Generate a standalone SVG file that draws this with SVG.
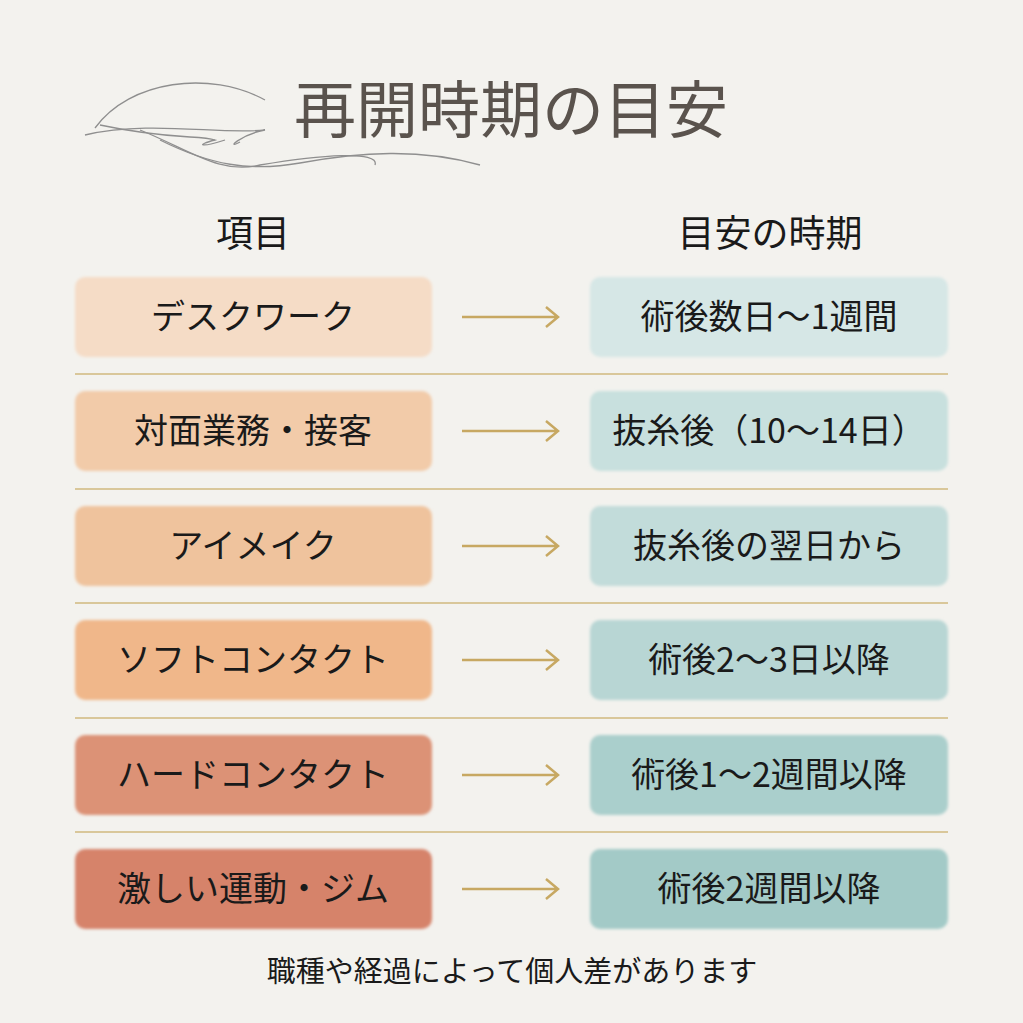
<svg xmlns="http://www.w3.org/2000/svg" width="1023" height="1023" viewBox="0 0 1023 1023">
<defs>
<style>
text{font-family:"Noto Sans CJK JP","Noto Sans CJK SC",sans-serif;text-anchor:middle}
.t{font-size:34px;fill:#1a1a1a}
.h{font-size:37px;fill:#1a1a1a}
.div{stroke:#d9c79a;stroke-width:2}
.arr{stroke:#c7a862;stroke-width:2.5;fill:none}
.orn{stroke:#8f8f8f;stroke-width:1.3;fill:none}
</style>
<filter id="blur"><feGaussianBlur stdDeviation="1.5"/></filter>
</defs>
<rect width="1023" height="1023" fill="#f3f2ee"/>
<g id="ornament">
<path class="orn" d="M95 128 C130 80 210 70 265 100"/>
<path class="orn" d="M85 135 C150 120 220 135 265 130 C240 135 225 150 240 142"/>
<path class="orn" d="M100 125 C170 140 200 135 215 140 C195 145 200 148 225 140"/>
<path class="orn" d="M140 130 C190 150 220 175 260 165 C320 155 380 150 375 165"/>
<path class="orn" d="M160 140 C210 165 250 172 300 163 C360 152 420 148 480 165"/>
</g>
<text x="511" y="133" style="font-size:62px;fill:#5a534d">再開時期の目安</text>
<text class="h" x="253" y="247">項目</text>
<text class="h" x="770" y="247">目安の時期</text>
<g id="connectors">
<line class="div" x1="75" y1="374" x2="948" y2="374"/>
<line class="div" x1="75" y1="489" x2="948" y2="489"/>
<line class="div" x1="75" y1="603" x2="948" y2="603"/>
<line class="div" x1="75" y1="718" x2="948" y2="718"/>
<line class="div" x1="75" y1="832" x2="948" y2="832"/>
<path class="arr" d="M462 317H558M546 307L558 317L546 327"/>
<path class="arr" d="M462 431H558M546 421L558 431L546 441"/>
<path class="arr" d="M462 546H558M546 536L558 546L546 556"/>
<path class="arr" d="M462 660H558M546 650L558 660L546 670"/>
<path class="arr" d="M462 775H558M546 765L558 775L546 785"/>
<path class="arr" d="M462 889H558M546 879L558 889L546 899"/>
</g>
<g id="l1"><rect x="75" y="277" width="357" height="80" rx="10" fill="#f5dcc6" filter="url(#blur)"/><text class="t" x="253" y="329">デスクワーク</text></g>
<g id="r1"><rect x="590" y="277" width="358" height="80" rx="10" fill="#d6e7e6" filter="url(#blur)"/><text class="t" x="769" y="329">術後数日〜1週間</text></g>
<g id="l2"><rect x="75" y="391" width="357" height="80" rx="10" fill="#f2cba9" filter="url(#blur)"/><text class="t" x="253" y="443">対面業務・接客</text></g>
<g id="r2"><rect x="590" y="391" width="358" height="80" rx="10" fill="#c8e0de" filter="url(#blur)"/><text class="t" x="769" y="443">抜糸後（10〜14日）</text></g>
<g id="l3"><rect x="75" y="506" width="357" height="80" rx="10" fill="#efc39d" filter="url(#blur)"/><text class="t" x="253" y="558">アイメイク</text></g>
<g id="r3"><rect x="590" y="506" width="358" height="80" rx="10" fill="#c2dcda" filter="url(#blur)"/><text class="t" x="769" y="558">抜糸後の翌日から</text></g>
<g id="l4"><rect x="75" y="620" width="357" height="80" rx="10" fill="#f0b78a" filter="url(#blur)"/><text class="t" x="253" y="672">ソフトコンタクト</text></g>
<g id="r4"><rect x="590" y="620" width="358" height="80" rx="10" fill="#b8d6d4" filter="url(#blur)"/><text class="t" x="769" y="672">術後2〜3日以降</text></g>
<g id="l5"><rect x="75" y="735" width="357" height="80" rx="10" fill="#dc9276" filter="url(#blur)"/><text class="t" x="253" y="787">ハードコンタクト</text></g>
<g id="r5"><rect x="590" y="735" width="358" height="80" rx="10" fill="#aacfcc" filter="url(#blur)"/><text class="t" x="769" y="787">術後1〜2週間以降</text></g>
<g id="l6"><rect x="75" y="849" width="357" height="80" rx="10" fill="#d6836a" filter="url(#blur)"/><text class="t" x="253" y="901">激しい運動・ジム</text></g>
<g id="r6"><rect x="590" y="849" width="358" height="80" rx="10" fill="#a3cac7" filter="url(#blur)"/><text class="t" x="769" y="901">術後2週間以降</text></g>
<text x="512" y="982" style="font-size:29px;fill:#1a1a1a">職種や経過によって個人差があります</text>
</svg>
